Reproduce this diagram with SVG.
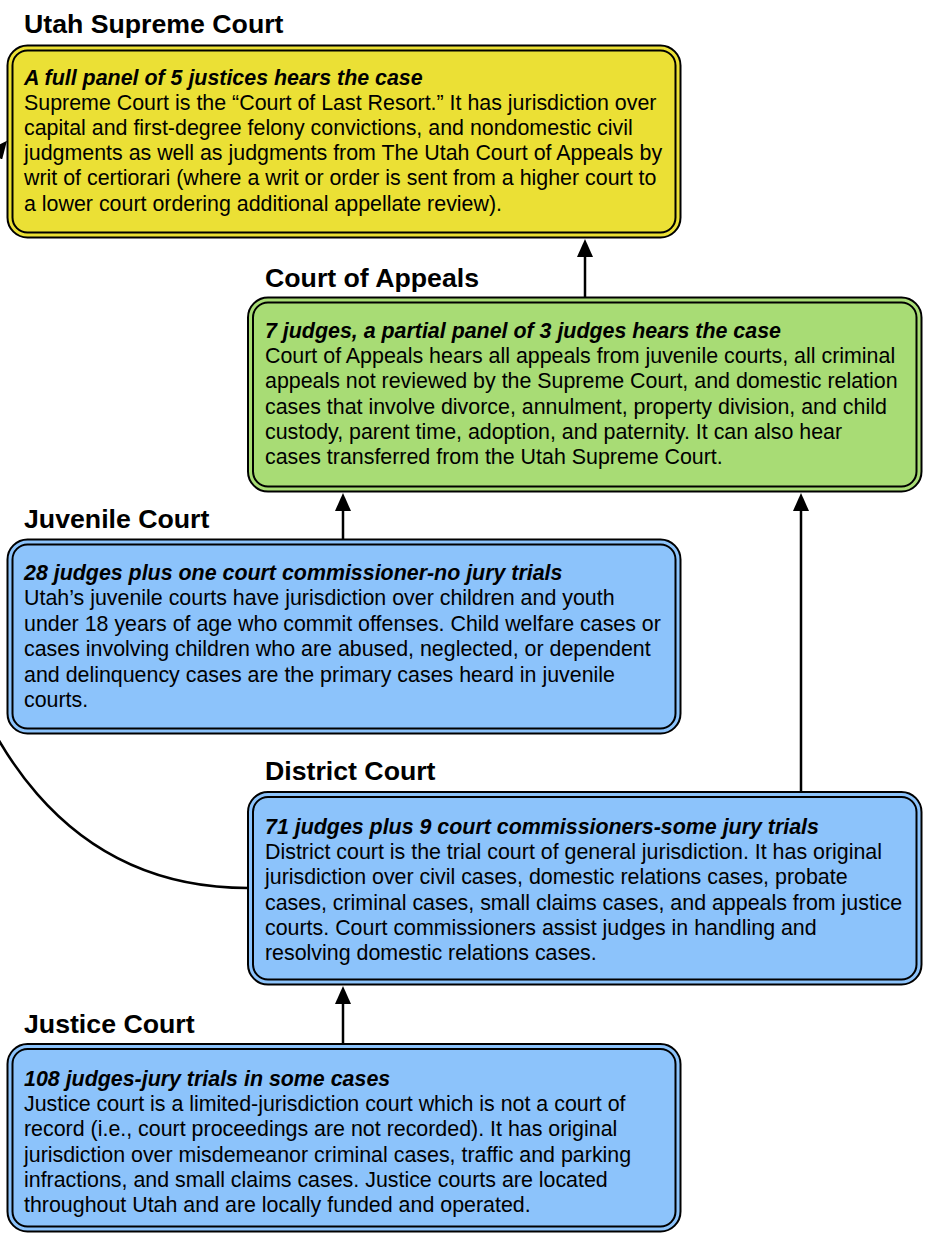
<svg xmlns="http://www.w3.org/2000/svg" width="925" height="1235" viewBox="0 0 925 1235">
<defs>
<style>
.t{font-family:"Liberation Sans",Arial,sans-serif;font-weight:bold;font-size:26.7px;fill:#000}
.b{font-family:"Liberation Sans",Arial,sans-serif;font-size:21.4px;fill:#000}
.h{font-weight:bold;font-style:italic}
.o{stroke:#000;stroke-width:2}
.i{fill:none;stroke:#000;stroke-width:2}
.y{fill:#EBE035}
.g{fill:#A8DC75}
.bl{fill:#8CC3FB}
.c{fill:none;stroke:#000;stroke-width:2.5}
</style>
<marker id="ah" markerUnits="userSpaceOnUse" markerWidth="18" markerHeight="16" viewBox="0 0 18 16" refX="1" refY="8" orient="auto">
<path d="M0,0 L18,8 L0,16 Z" fill="#000"/>
</marker>
</defs>

<g id="connectors">
<path class="c" d="M585 297 V256" marker-end="url(#ah)"/>
<path class="c" d="M343 539 V510" marker-end="url(#ah)"/>
<path class="c" d="M801 792 V510" marker-end="url(#ah)"/>
<path class="c" d="M343 1044 V1003" marker-end="url(#ah)"/>
<path class="c" d="M248 888 C-120 888 -120 300 -3.6 154" marker-end="url(#ah)"/>
</g>

<g id="supreme">
<text class="t" x="24" y="33">Utah Supreme Court</text>
<rect class="o y" x="7.5" y="45.5" width="673" height="192" rx="20"/>
<rect class="i" x="12.5" y="50.5" width="663" height="182" rx="15"/>
<text class="b" x="24" y="84.5"><tspan class="h">A full panel of 5 justices hears the case</tspan><tspan x="24" dy="25.2">Supreme Court is the “Court of Last Resort.” It has jurisdiction over</tspan><tspan x="24" dy="25.2">capital and first-degree felony convictions, and nondomestic civil</tspan><tspan x="24" dy="25.2">judgments as well as judgments from The Utah Court of Appeals by</tspan><tspan x="24" dy="25.2">writ of certiorari (where a writ or order is sent from a higher court to</tspan><tspan x="24" dy="25.2">a lower court ordering additional appellate review).</tspan></text>
</g>

<g id="appeals">
<text class="t" x="265" y="287">Court of Appeals</text>
<rect class="o g" x="248" y="297.5" width="673.5" height="194" rx="20"/>
<rect class="i" x="253" y="302.5" width="663.5" height="184" rx="15"/>
<text class="b" x="265" y="338"><tspan class="h">7 judges, a partial panel of 3 judges hears the case</tspan><tspan x="265" dy="25.2">Court of Appeals hears all appeals from juvenile courts, all criminal</tspan><tspan x="265" dy="25.2">appeals not reviewed by the Supreme Court, and domestic relation</tspan><tspan x="265" dy="25.2">cases that involve divorce, annulment, property division, and child</tspan><tspan x="265" dy="25.2">custody, parent time, adoption, and paternity. It can also hear</tspan><tspan x="265" dy="25.2">cases transferred from the Utah Supreme Court.</tspan></text>
</g>

<g id="juvenile">
<text class="t" x="24" y="528">Juvenile Court</text>
<rect class="o bl" x="7.5" y="539.5" width="673" height="194" rx="20"/>
<rect class="i" x="12.5" y="544.5" width="663" height="184" rx="15"/>
<text class="b" x="24" y="580"><tspan class="h">28 judges plus one court commissioner-no jury trials</tspan><tspan x="24" dy="25.4">Utah’s juvenile courts have jurisdiction over children and youth</tspan><tspan x="24" dy="25.4">under 18 years of age who commit offenses. Child welfare cases or</tspan><tspan x="24" dy="25.4">cases involving children who are abused, neglected, or dependent</tspan><tspan x="24" dy="25.4">and delinquency cases are the primary cases heard in juvenile</tspan><tspan x="24" dy="25.4">courts.</tspan></text>
</g>

<g id="district">
<text class="t" x="265" y="780">District Court</text>
<rect class="o bl" x="248" y="792" width="673.5" height="192.5" rx="20"/>
<rect class="i" x="253" y="797" width="663.5" height="182.5" rx="15"/>
<text class="b" x="265" y="834"><tspan class="h">71 judges plus 9 court commissioners-some jury trials</tspan><tspan x="265" dy="25.2">District court is the trial court of general jurisdiction. It has original</tspan><tspan x="265" dy="25.2">jurisdiction over civil cases, domestic relations cases, probate</tspan><tspan x="265" dy="25.2">cases, criminal cases, small claims cases, and appeals from justice</tspan><tspan x="265" dy="25.2">courts. Court commissioners assist judges in handling and</tspan><tspan x="265" dy="25.2">resolving domestic relations cases.</tspan></text>
</g>

<g id="justice">
<text class="t" x="24" y="1033">Justice Court</text>
<rect class="o bl" x="7.5" y="1044" width="673" height="187.5" rx="20"/>
<rect class="i" x="12.5" y="1049" width="663" height="177.5" rx="15"/>
<text class="b" x="24" y="1086"><tspan class="h">108 judges-jury trials in some cases</tspan><tspan x="24" dy="25.2">Justice court is a limited-jurisdiction court which is not a court of</tspan><tspan x="24" dy="25.2">record (i.e., court proceedings are not recorded). It has original</tspan><tspan x="24" dy="25.2">jurisdiction over misdemeanor criminal cases, traffic and parking</tspan><tspan x="24" dy="25.2">infractions, and small claims cases. Justice courts are located</tspan><tspan x="24" dy="25.2">throughout Utah and are locally funded and operated.</tspan></text>
</g>
</svg>
